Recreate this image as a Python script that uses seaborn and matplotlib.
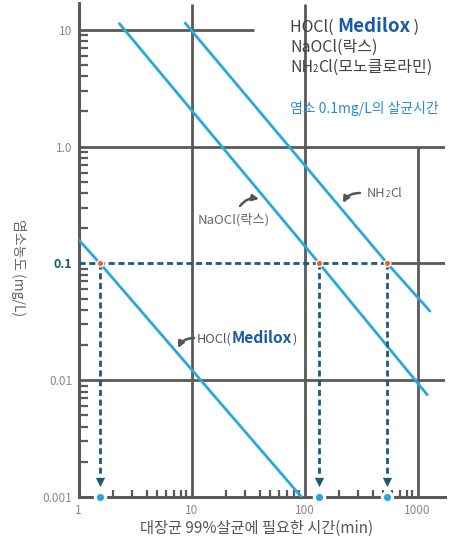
import numpy as np
import pandas as pd
import seaborn as sns
import matplotlib.pyplot as plt
from matplotlib.ticker import FixedLocator, FixedFormatter, LogLocator, NullFormatter

sns.set_style("white")
plt.rcParams['font.family'] = ['Noto Sans CJK KR', 'DejaVu Sans']

# ---------------- data ----------------
hocl_time = [1.0, 1.55, 94]
hocl_conc = [0.16, 0.1, 0.001]
naocl_time = [2.3, 135, 1220]
naocl_conc = [11.3, 0.1, 0.0075]
nh2cl_time = [8.8, 540, 1290]
nh2cl_conc = [11.4, 0.1, 0.039]
target_conc = 0.1
kill_times = [1.55, 135, 540]
x_ticks = [1, 10, 100, 1000]
x_ticklabels = ["1", "10", "100", "1000"]
y_ticks = [0.001, 0.01, 0.1, 1, 10]
y_ticklabels = ["0.001", "0.01", "0.1", "1.0", "10"]

df = pd.DataFrame({
    "time": hocl_time + naocl_time + nh2cl_time,
    "conc": hocl_conc + naocl_conc + nh2cl_conc,
    "agent": ["HOCl"] * 3 + ["NaOCl"] * 3 + ["NH2Cl"] * 3,
})

# ---------------- colours ----------------
LINE = "#29a8e0"
GRID = "#5a5a5a"
DASH = "#1d5b74"
ORANGE = "#f0602a"
BLUE_TXT = "#2a8ad0"
MEDILOX = "#1b5aa6"
GRAY_TXT = "#666666"

W, H = 468, 539
fig = plt.figure(figsize=(W / 100, H / 100), dpi=100)
ax_l, ax_r, ax_t, ax_b = 78.5, 445, 3, 497
ax = fig.add_axes([ax_l / W, 1 - ax_b / H, (ax_r - ax_l) / W, (ax_b - ax_t) / H])
ax.set_xscale("log")
ax.set_yscale("log")
xmax = 10 ** ((ax_r - ax_l) / 113.0)
ymax = 10 ** ((ax_b - ax_t) / 116.8 - 3)
ax.set_xlim(1, xmax)
ax.set_ylim(0.001, ymax)

# custom grid
ax.hlines(10, 1, 35.7, color=GRID, lw=2.0, zorder=1)
ax.hlines([1, 0.01], 1, xmax, color=GRID, lw=2.0, zorder=1)
ax.hlines(target_conc, max(kill_times), xmax, color=GRID, lw=2.0, zorder=1)
ax.vlines([10, 100], 0.001, ymax * 0.99, color=GRID, lw=2.0, zorder=1)
ax.vlines(1000, 0.001, 1, color=GRID, lw=2.0, zorder=1)

# curves
sns.lineplot(data=df, x="time", y="conc", hue="agent", units="agent",
             estimator=None, sort=False, palette=[LINE] * 3, lw=2.0,
             legend=False, ax=ax, zorder=3)
ax.set_xlabel("")
ax.set_ylabel("")

# dashed guides
dash_style = (0, (2.2, 1.3))
ax.plot([1, max(kill_times)], [target_conc, target_conc], color=DASH, lw=2.0,
        ls=dash_style, zorder=4)
for t in kill_times:
    ax.plot([t, t], [target_conc, 0.00155], color=DASH, lw=2.0, ls=dash_style, zorder=4)
ax.scatter(kill_times, [0.00135] * 3, marker="v", s=45, color=DASH, zorder=5,
           linewidths=0)
ax.scatter(kill_times, [target_conc] * 3, s=22, color=ORANGE, edgecolor="white",
           linewidths=1.0, zorder=6)
ax.scatter(kill_times, [0.001] * 3, s=55, color=LINE, edgecolor="white",
           linewidths=2.2, zorder=7, clip_on=False)

# axes styling
for s in ["top", "right"]:
    ax.spines[s].set_visible(False)
for s in ["left", "bottom"]:
    ax.spines[s].set_color(GRID)
    ax.spines[s].set_linewidth(2.2)
ax.xaxis.set_major_locator(FixedLocator(x_ticks))
ax.xaxis.set_major_formatter(FixedFormatter(x_ticklabels))
ax.yaxis.set_major_locator(FixedLocator(y_ticks))
ax.yaxis.set_major_formatter(FixedFormatter(y_ticklabels))
ax.xaxis.set_minor_locator(LogLocator(base=10, subs=np.arange(2, 10)))
ax.yaxis.set_minor_locator(LogLocator(base=10, subs=np.arange(2, 10)))
ax.xaxis.set_minor_formatter(NullFormatter())
ax.yaxis.set_minor_formatter(NullFormatter())
ax.tick_params(axis="both", which="both", bottom=True, left=True)
ax.tick_params(axis="both", which="major", length=0, labelsize=8.5,
               labelcolor="#8a8a8a")
ax.tick_params(axis="x", which="major", pad=5)
ax.tick_params(axis="y", which="major", pad=4.5)
ax.tick_params(axis="x", which="minor", direction="in", length=5, width=1.6,
               color=GRID)
ax.tick_params(axis="y", which="minor", direction="in", length=6.5, width=1.6,
               color=GRID)
for lab in ax.get_yticklabels():
    if lab.get_text() == "0.1":
        lab.set_color(DASH)
        lab.set_fontweight("bold")
        lab.set_fontsize(9)

# ---------------- texts ----------------
fig.canvas.draw()
renderer = fig.canvas.get_renderer()


def seq(x_px, y_px, parts):
    x = x_px
    for s, kw in parts:
        t = fig.text(x / W, 1 - y_px / H, s, ha="left", va="baseline", **kw)
        bb = t.get_window_extent(renderer)
        x += bb.width


seq(290, 31.5, [("HOCl( ", dict(size=11.5, color="#444")),
                ("Medilox", dict(size=13.5, color=MEDILOX, fontweight="bold")),
                (" )", dict(size=11.5, color="#444"))])
seq(290, 51.5, [("NaOCl(락스)", dict(size=11.5, color="#444"))])
seq(290, 71.5, [("NH", dict(size=11.5, color="#444")),
                ("2", dict(size=7, color="#444")),
                ("Cl(모노클로라민)", dict(size=11.5, color="#444"))])
seq(290, 112.5, [("염소 0.1mg/L의 살균시간", dict(size=10, color=BLUE_TXT))])

seq(198, 224, [("NaOCl(락스)", dict(size=9.5, color=GRAY_TXT))])
seq(367, 197, [("NH", dict(size=9.2, color=GRAY_TXT)),
               ("2", dict(size=5.8, color=GRAY_TXT)),
               ("Cl", dict(size=9.2, color=GRAY_TXT))])
seq(197, 343, [("HOCl(", dict(size=9.2, color="#555")),
               ("Medilox", dict(size=11.2, color=MEDILOX, fontweight="bold")),
               (")", dict(size=9.2, color="#555"))])

arrow_kw = dict(arrowstyle="-|>", color="#555555", lw=1.8, mutation_scale=9,
                shrinkA=0, shrinkB=0)
ax.annotate("", xy=(259, H - 199), xytext=(240, H - 206), xycoords="figure pixels",
            textcoords="figure pixels",
            arrowprops=dict(connectionstyle="arc3,rad=-0.3", **arrow_kw))
ax.annotate("", xy=(343, H - 203), xytext=(360, H - 193), xycoords="figure pixels",
            textcoords="figure pixels",
            arrowprops=dict(connectionstyle="arc3,rad=0.3", **arrow_kw))
ax.annotate("", xy=(178, H - 348), xytext=(194, H - 338), xycoords="figure pixels",
            textcoords="figure pixels",
            arrowprops=dict(connectionstyle="arc3,rad=0.3", **arrow_kw))

fig.text(257 / W, 1 - 533 / H, "대장균 99%살균에 필요한 시간(min)", ha="center",
         va="baseline", size=11, color="#555")
fig.text(18 / W, 1 - 268 / H, "염소농도 (mg/L)", ha="center", va="center",
         rotation=270, size=10, color=GRAY_TXT)

fig.savefig("out.png", dpi=100)
